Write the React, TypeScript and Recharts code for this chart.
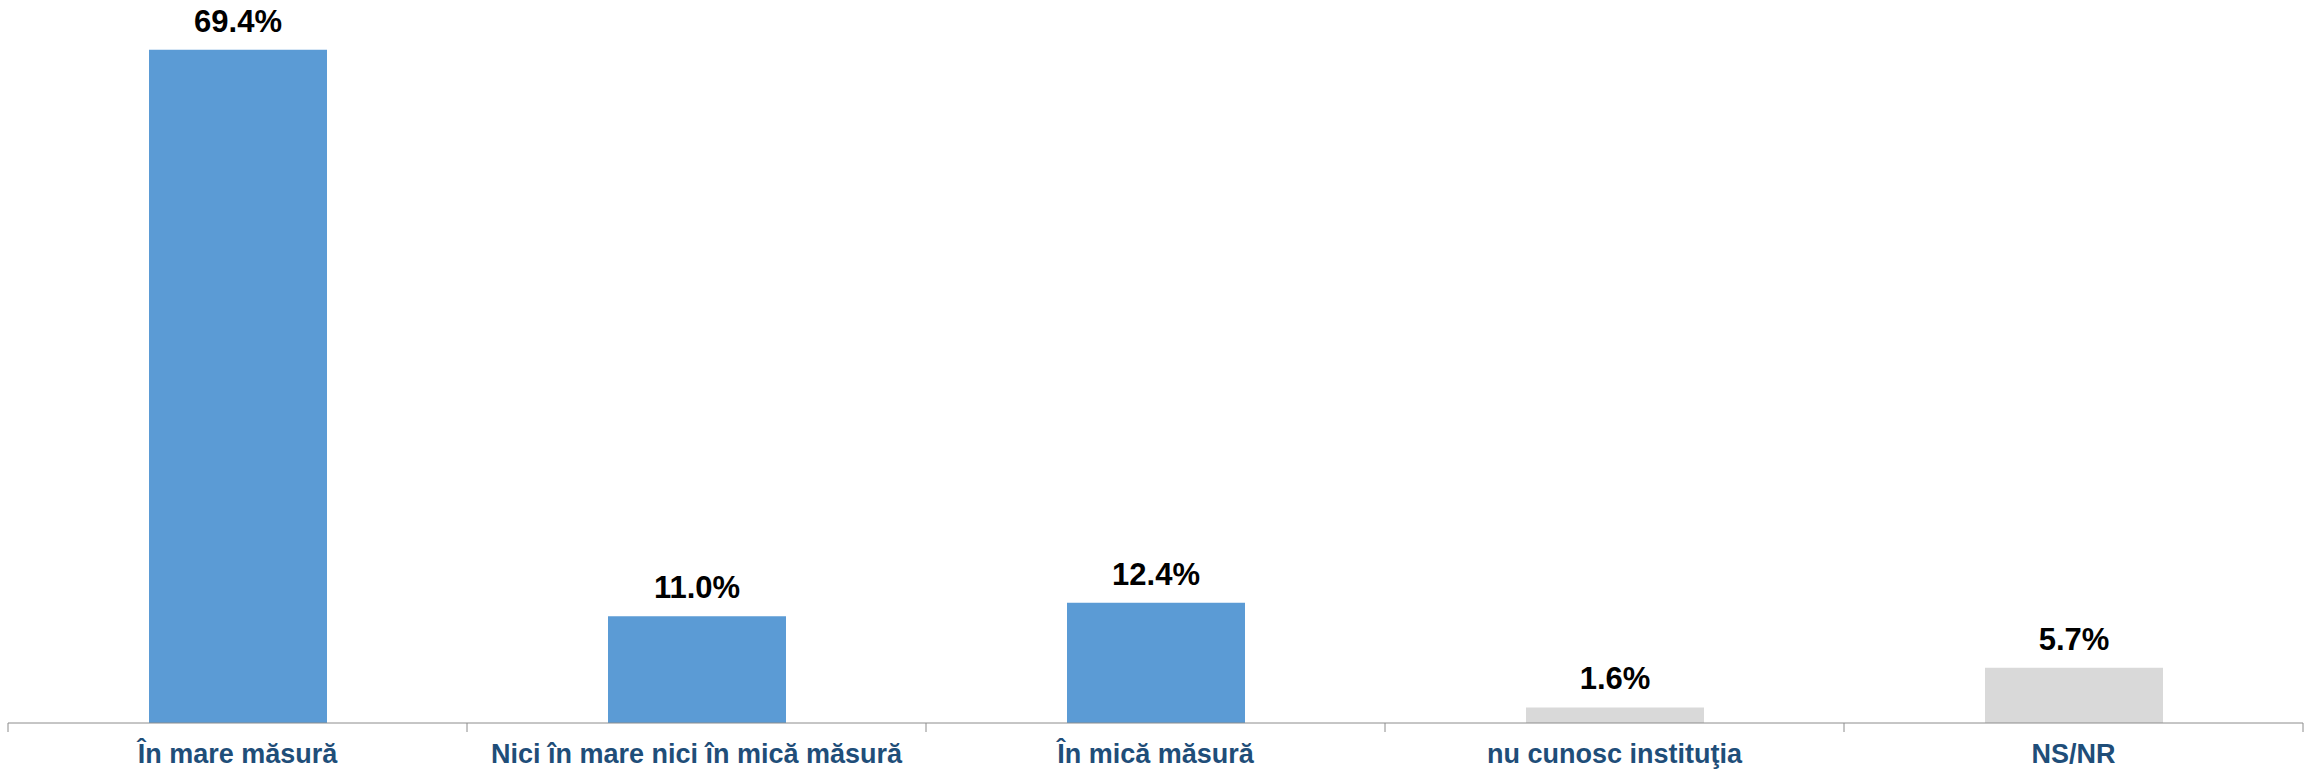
import React from "react";
import { BarChart, Bar, XAxis, YAxis, Cell, LabelList } from "recharts";

const categories = [
  "În mare măsură",
  "Nici în mare nici în mică măsură",
  "În mică măsură",
  "nu cunosc instituţia",
  "NS/NR",
];
const values = [69.4, 11.0, 12.4, 1.6, 5.7];
const barColors = ["#5B9BD5", "#5B9BD5", "#5B9BD5", "#D9D9D9", "#D9D9D9"];

const data = categories.map((name, i) => ({ name, value: values[i] }));

const FONT = "Arial, 'Liberation Sans', Helvetica, sans-serif";

const CategoryTick = (props: any) => {
  const { x, y, payload, width, visibleTicksCount, index } = props;
  const count = visibleTicksCount || categories.length;
  const band = (width || 2295) / count;
  const left = x - band / 2;
  const right = x + band / 2;
  return (
    <g>
      <line x1={left} y1={y} x2={left} y2={y + 9} stroke="#8C8C8C" strokeWidth={1} />
      {index === count - 1 && (
        <line x1={right} y1={y} x2={right} y2={y + 9} stroke="#8C8C8C" strokeWidth={1} />
      )}
      <text
        x={x}
        y={y + 40}
        textAnchor="middle"
        fill="#1F4E79"
        fontFamily={FONT}
        fontWeight="bold"
        fontSize={27}
      >
        {payload.value}
      </text>
    </g>
  );
};

export default function App() {
  return (
    <div style={{ position: "absolute", left: 0, top: 0, width: 2305, height: 771, background: "#fff" }}>
      <BarChart
        width={2305}
        height={771}
        data={data}
        margin={{ top: 44, right: 2, bottom: 0, left: 8 }}
      >
        <XAxis
          dataKey="name"
          height={48}
          tickSize={0}
          tickMargin={0}
          tickLine={false}
          axisLine={{ stroke: "#8C8C8C", strokeWidth: 1 }}
          tick={<CategoryTick />}
          interval={0}
        />
        <YAxis hide domain={[0, 70]} />
        <Bar dataKey="value" barSize={178} isAnimationActive={false}>
          {data.map((d, i) => (
            <Cell key={d.name} fill={barColors[i]} />
          ))}
          <LabelList
            dataKey="value"
            position="top"
            offset={18}
            formatter={(v: any) => `${Number(v).toFixed(1)}%`}
            fill="#000"
            fontFamily={FONT}
            fontWeight="bold"
            fontSize={31}
          />
        </Bar>
      </BarChart>
    </div>
  );
}
